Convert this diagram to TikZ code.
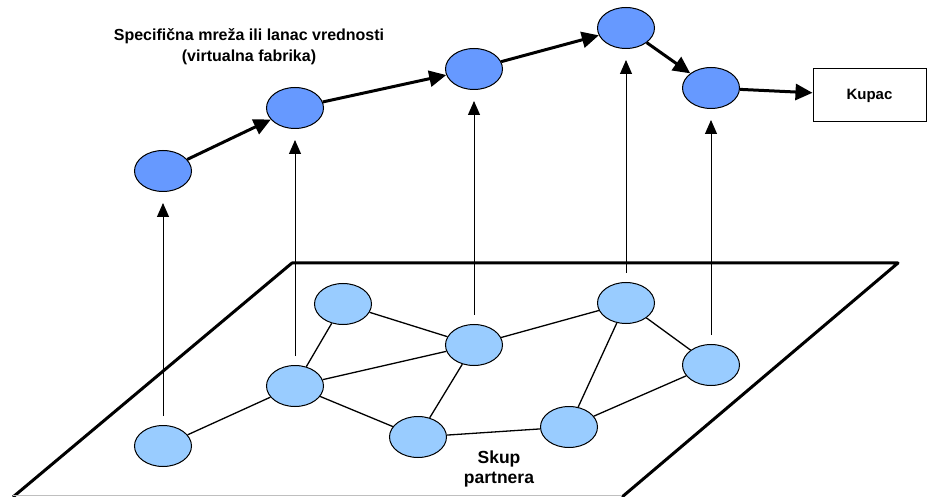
\documentclass[tikz,border=0pt]{standalone}
\usepackage{fontspec}
\setmainfont{Liberation Sans}
\usetikzlibrary{shapes.geometric,arrows.meta}
\definecolor{chainblue}{HTML}{6699FF}
\definecolor{poolblue}{HTML}{99CCFF}
\tikzset{
  chainnode/.style={ellipse,draw=black,line width=1pt,fill=chainblue,minimum width=57pt,minimum height=41pt,inner sep=0pt},
  poolnode/.style={ellipse,draw=black,line width=1pt,fill=poolblue,minimum width=57pt,minimum height=41pt,inner sep=0pt},
  flow/.style={line width=3pt,-{Triangle[length=17pt,width=16pt]}},
  lift/.style={line width=1pt,-{Triangle[length=14pt,width=12pt]},shorten <=9pt,shorten >=11pt},
  link/.style={line width=1.3pt},
  plane/.style={line width=3pt,line join=round},
  title/.style={font=\bfseries\fontsize{16}{21}\selectfont,align=center},
  caption/.style={font=\bfseries\fontsize{17.5}{20}\selectfont,align=center}
}
\begin{document}
\begin{tikzpicture}[x=1pt,y=-1pt]
\useasboundingbox (0,0) rectangle (927,497);
% partner plane
\draw[plane] (13,497) -- (292,263) -- (898,263) -- (622,497);
\draw[black!25,line width=1pt] (13,495) -- (622,495);

% partner pool
\node[poolnode] (p1) at (163,446) {};
\node[poolnode] (p2) at (295,386) {};
\node[poolnode] (p3) at (343,304) {};
\node[poolnode] (p4) at (474,345) {};
\node[poolnode] (p5) at (418,437) {};
\node[poolnode] (p6) at (626,303) {};
\node[poolnode] (p7) at (711,365) {};
\node[poolnode] (p8) at (569,427) {};

% value chain
\node[chainnode] (c1) at (163,171) {};
\node[chainnode] (c2) at (295,108) {};
\node[chainnode] (c3) at (474,69) {};
\node[chainnode] (c4) at (626,28) {};
\node[chainnode] (c5) at (711,88) {};
\node[draw=black,line width=1pt,minimum width=113pt,minimum height=53pt,inner sep=0pt,font=\bfseries\fontsize{15}{18}\selectfont] (kupac) at (869.5,95.5) {Kupac};

% links between partners
\draw[link] (p1) -- (p2);
\draw[link] (p2) -- (p3);
\draw[link] (p2) -- (p4);
\draw[link] (p2) -- (p5);
\draw[link] (p3) -- (p4);
\draw[link] (p4) -- (p5);
\draw[link] (p4) -- (p6);
\draw[link] (p5) -- (p8);
\draw[link] (p6) -- (p8);
\draw[link] (p6) -- (p7);
\draw[link] (p8) -- (p7);

% partners lifted into the chain
\draw[lift] (p1) -- (c1);
\draw[lift] (p2) -- (c2);
\draw[lift] (p4) -- (c3);
\draw[lift] (p6) -- (c4);
\draw[lift] (p7) -- (c5);

% flow along the chain
\draw[flow] (c1) -- (c2);
\draw[flow] (c2) -- (c3);
\draw[flow] (c3) -- (c4);
\draw[flow] (c4) -- (c5);
\draw[flow] (c5) -- (kupac);

% captions
\node[title] (heading) at (249,47) {Specifična mreža ili lanac vrednosti\\(virtualna fabrika)};
\node[caption] (pool) at (499,469) {Skup\\partnera};
\end{tikzpicture}
\end{document}
